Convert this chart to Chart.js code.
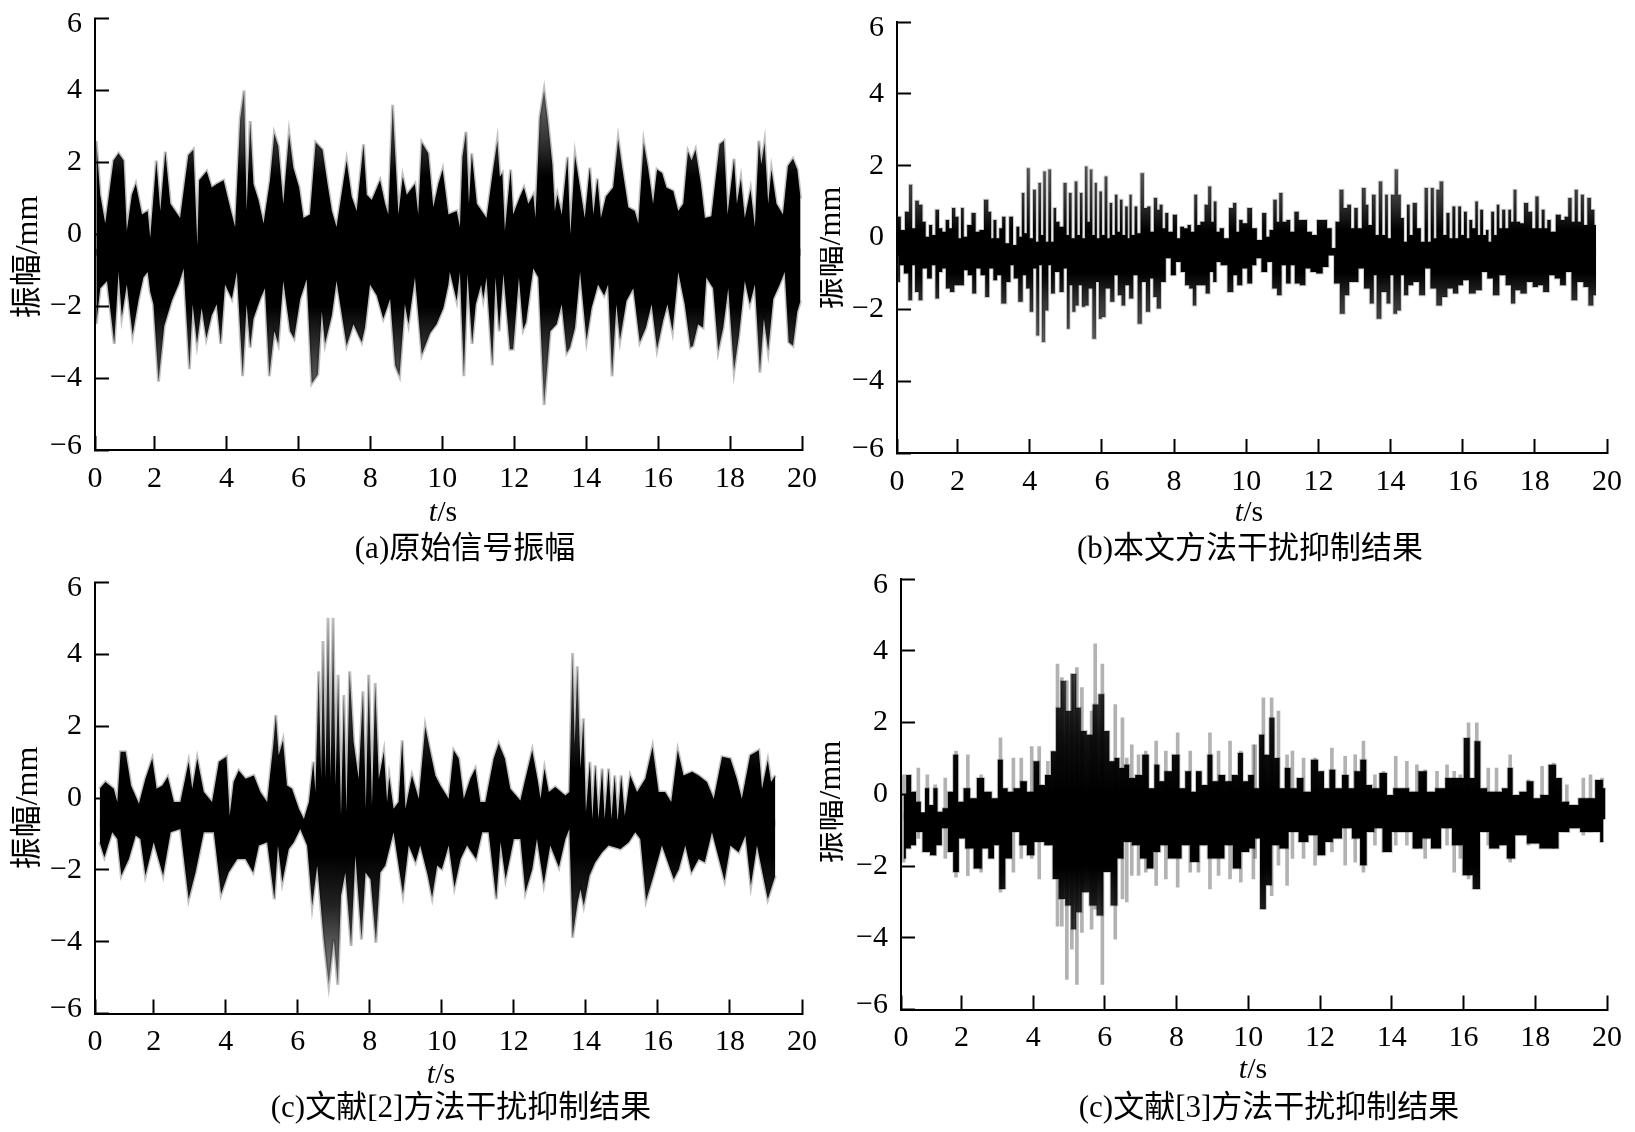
<!DOCTYPE html>
<html>
<head>
<meta charset="utf-8">
<title>振幅</title>
<script src="https://cdn.jsdelivr.net/npm/chart.js@4/dist/chart.umd.min.js"></script>
<style>
  html, body { margin: 0; padding: 0; background: #fff; }
  #page { position: relative; width: 1635px; height: 1132px; overflow: hidden; }
  canvas { position: absolute; filter: blur(0.45px); }
</style>
</head>
<body>
<div id="page">
  <canvas id="panelA"></canvas>
  <canvas id="panelB"></canvas>
  <canvas id="panelC"></canvas>
  <canvas id="panelD"></canvas>
</div>
<script>
var xTickValues = [2, 4, 6, 8, 10, 12, 14, 16, 18, 20];
var xTickLabels = ['0', '2', '4', '6', '8', '10', '12', '14', '16', '18', '20'];
var yTickValues = [-6, -4, -2, 0, 2, 4, 6];
var yTickLabels = ['\u22126', '\u22124', '\u22122', '0', '2', '4', '6'];
var captions = ['(a)原始信号振幅', '(b)本文方法干扰抑制结果', '(c)文献[2]方法干扰抑制结果', '(c)文献[3]方法干扰抑制结果'];
var yTitle = '振幅/mm';

// panel a, upper and lower edge of the band
var upTimeA = [.38,.49,.63,.86,1.0,1.14,1.23,1.37,1.48,1.65,
  1.81,1.88,2.05,2.16,2.3,2.44,2.71,2.94,3.08,3.19,
  3.24,3.45,3.59,3.73,3.92,4.1,4.24,4.38,4.49,4.56,
  4.66,4.75,4.89,5.03,5.21,5.33,5.44,5.58,5.74,5.86,
  6.02,6.14,6.32,6.48,6.67,6.81,6.93,7.06,7.34,7.48,
  7.62,7.81,7.9,8.04,8.27,8.41,8.5,8.62,8.78,8.9,
  9.01,9.24,9.33,9.43,9.61,9.75,9.89,10.01,10.17,
  10.4,10.49,10.56,10.66,10.74,10.82,10.96,11.23,11.4,11.53,
  11.6,11.67,11.74,11.9,11.97,12.16,12.27,12.39,12.53,12.59,
  12.71,12.83,12.93,13.06,13.13,13.2,13.32,13.48,13.56,13.69,
  13.83,13.96,14.1,14.2,14.31,14.41,14.55,14.75,14.89,15.01,
  15.17,15.35,15.45,15.6,15.72,15.86,15.97,16.11,16.23,16.42,
  16.56,16.7,16.83,16.93,17.04,17.19,17.3,17.48,17.71,17.83,
  17.93,18.11,18.19,18.3,18.41,18.57,18.69,18.8,18.87,18.96,
  19.06,19.15,19.29,19.47,19.61,19.75,19.87,19.96];
var upA = [2.6,1.1,.3,2.05,2.25,2.05,.1,1.1,1.4,.55,
  .65,-.1,2.05,.65,2.3,.85,.45,2.2,2.35,-.3,
  1.5,1.75,1.3,1.4,1.5,.75,.2,3.2,4.0,.65,
  3.15,1.4,.95,.3,1.5,2.8,2.45,.85,2.8,1.85,
  1.3,.45,.55,2.55,2.35,1.4,.65,.2,2.05,1.05,
  .65,2.5,1.1,.95,1.5,.85,.55,3.6,.55,1.6,
  1.1,1.4,.55,2.55,2.25,.75,1.4,1.8,.55,
  .65,.2,2.15,2.85,.85,2.25,.85,.45,1.7,2.6,
  1.6,1.7,.1,1.8,.55,1.05,1.3,.85,1.1,.45,
  3.25,4.0,3.2,1.95,.65,1.1,.55,2.15,0,2.2,
  1.3,.45,1.85,.55,1.55,.45,1.05,1.3,2.65,1.8,
  .75,.65,.3,2.55,1.85,.85,1.8,1.7,1.3,1.2,
  .65,.85,2.3,2.05,2.35,1.4,.45,.5,2.5,2.6,
  .55,2.1,.85,1.55,.45,1.25,.2,2.6,1.95,2.55,
  .85,1.8,.85,.55,1.9,2.1,1.8,1.0];
var loTimeA = [.38,.49,.68,.88,1.0,1.09,1.23,1.39,1.56,1.69,
  1.81,1.88,1.97,2.11,2.27,2.48,2.67,2.81,2.97,3.06,
  3.18,3.31,3.44,3.59,3.73,3.84,3.96,4.15,4.29,4.45,
  4.56,4.66,4.75,4.94,5.07,5.19,5.33,5.44,5.58,5.77,
  5.88,6.05,6.23,6.37,6.54,6.65,6.74,6.93,7.06,7.34,
  7.53,7.76,7.85,7.99,8.18,8.36,8.55,8.69,8.81,8.96,
  9.06,9.24,9.43,9.66,9.84,10.03,10.17,
  10.21,10.4,10.49,10.6,10.7,10.83,10.93,11.08,11.14,11.23,
  11.39,11.48,11.58,11.7,11.88,11.97,12.13,12.25,12.33,12.44,
  12.53,12.67,12.83,13.0,13.18,13.32,13.46,13.55,13.69,13.83,
  14.01,14.15,14.33,14.5,14.61,14.72,14.84,14.94,15.12,15.31,
  15.49,15.66,15.82,15.97,16.14,16.26,16.4,16.56,16.74,16.9,
  16.97,17.11,17.25,17.34,17.53,17.67,17.81,17.95,18.11,18.25,
  18.41,18.55,18.69,18.83,18.94,19.06,19.2,19.38,19.52,19.63,
  19.75,19.87,19.96];
var loA = [-2.5,-1.5,-1.3,-3.05,-1.05,-2.3,-1.4,-2.8,-1.8,-1.2,
  -1.05,-1.6,-1.95,-4.1,-2.55,-1.85,-1.4,-.95,-3.75,-1.95,
  -3.05,-2.05,-2.9,-2.25,-1.95,-3.05,-1.4,-1.8,-1.05,-3.95,
  -1.95,-3.15,-2.35,-1.8,-1.5,-3.95,-2.7,-3.05,-1.3,-2.7,
  -2.9,-1.8,-1.25,-4.15,-3.9,-2.15,-3.05,-2.25,-1.3,-3.1,
  -2.5,-3.0,-2.6,-1.4,-1.7,-2.35,-1.8,-3.65,-3.95,-1.95,
  -2.5,-1.2,-3.35,-2.75,-2.5,-2.05,-1.4,
  -1.05,-1.85,-1.05,-3.95,-1.1,-3.05,-1.95,-1.4,-1.8,-1.2,
  -3.65,-1.2,-2.7,-1.1,-3.2,-3.2,-1.2,-2.65,-2.45,-1.6,
  -.95,-1.2,-4.75,-2.7,-2.5,-1.95,-3.3,-3.15,-2.6,-1.05,
  -2.95,-2.05,-1.4,-1.7,-1.4,-3.95,-1.95,-2.95,-1.85,-1.5,
  -3.0,-2.6,-1.95,-3.2,-2.4,-1.95,-2.7,-1.05,-1.95,-3.15,
  -3.1,-2.5,-2.6,-1.2,-1.5,-3.25,-2.6,-1.5,-3.8,-2.8,
  -1.3,-1.95,-1.4,-3.85,-2.35,-3.25,-1.8,-1.4,-1.05,-3.0,
  -3.1,-2.15,-1.85];

// panel b
var upTimeB = [.29,.38,.47,.61,.70,.78,.87,.98,1.07,1.16,
  1.26,1.33,1.44,1.53,1.62,1.72,1.81,1.88,1.99,2.06,
  2.13,2.21,2.32,2.45,2.55,2.66,2.80,2.90,2.96,3.03,
  3.12,3.19,3.28,3.37,3.49,3.58,3.68,3.74,3.82,3.88,
  3.96,4.04,4.14,4.20,4.28,4.34,4.41,4.48,4.55,4.63,
  4.69,4.77,4.88,4.99,5.05,5.12,5.20,5.29,5.35,5.43,
  5.49,5.57,5.63,5.70,5.77,5.83,5.89,5.97,6.03,6.12,
  6.18,6.25,6.32,6.40,6.46,6.54,6.60,6.69,6.74,6.79,
  6.86,6.95,7.01,7.13,7.20,7.31,7.38,7.50,7.56,7.64,
  7.72,7.79,7.89,8.04,8.12,8.22,8.33,8.42,8.51,8.61,
  8.67,8.79,8.90,8.99,9.07,9.13,9.22,9.31,9.45,9.59,
  9.68,9.77,9.84,9.96,10.1,
  10.22,10.37,10.51,10.60,10.69,10.81,10.88,10.95,11.06,11.17,
  11.27,11.40,11.51,11.62,11.75,11.89,12.03,12.17,12.31,12.43,
  12.52,12.65,12.74,12.86,12.95,13.04,13.14,13.27,13.35,13.42,
  13.55,13.62,13.73,13.81,13.89,13.96,14.06,14.17,14.24,14.33,
  14.41,14.50,14.56,14.67,14.79,14.89,15.0,15.07,15.16,15.24,
  15.30,15.42,15.50,15.60,15.67,15.76,15.83,15.92,15.99,16.08,
  16.15,16.22,16.31,16.39,16.45,16.52,16.61,16.68,16.75,16.83,
  16.91,16.98,17.05,17.14,17.22,17.31,17.37,17.45,17.53,17.65,
  17.75,17.88,17.97,18.06,18.15,18.23,18.31,18.38,18.5,18.66,
  18.78,18.87,18.98,19.06,19.15,19.23,19.32,19.4,19.51,19.6,19.7];
var upB = [.26,.58,.21,.72,1.47,.26,1.02,.91,.44,.02,
  .35,.07,.77,.26,.16,.49,.26,.82,.58,-.02,
  .82,.02,.35,.68,.16,.21,1.05,.72,-.02,.49,
  -.02,.26,.58,-.16,.58,-.21,.30,.02,1.24,.12,
  1.93,-.02,1.33,-.12,1.52,.07,1.84,-.12,1.89,-.12,
  .82,.44,.30,1.52,.07,1.24,-.02,1.56,.07,1.24,
  -.02,1.98,.44,1.89,.07,1.52,-.02,1.28,.07,1.70,
  -.02,.96,.07,1.19,.16,1.05,.07,.86,-.02,1.19,
  .07,.86,.12,1.79,.82,.86,.16,1.10,.77,.91,
  .26,.68,.16,.63,-.02,.30,.26,.35,.16,1.19,
  .35,.44,.91,1.42,.44,1.0,.16,.26,-.02,.82,
  .96,.16,.49,.40,.82,
  .26,-.07,.68,.02,.21,1.05,.44,1.24,.44,.49,
  .16,.72,.49,.49,.16,.07,.49,.49,.26,-.30,
  .44,1.33,.82,.91,.26,.82,.26,1.38,.91,.35,
  1.19,.07,1.56,.07,1.19,-.02,1.19,1.89,1.19,.54,
  -.12,.91,.07,.96,.26,-.12,1.38,-.12,1.38,-.02,
  1.33,1.56,.07,.68,-.02,.86,-.02,.86,.07,.72,
  -.02,.49,.26,1.0,.07,.77,.07,.21,-.12,.72,
  .07,.91,.26,.77,.26,.77,.44,1.33,.44,.40,
  .96,.72,.26,1.14,.26,.77,.26,.49,.16,.63,
  .49,.58,1.10,.44,1.33,.44,1.19,.35,1.10,.77,.35];
var loTimeB = [.35,.45,.57,.70,.78,.86,.98,1.07,1.24,1.33,
  1.44,1.53,1.62,1.73,1.85,1.97,2.13,2.22,2.34,2.47,
  2.56,2.71,2.82,2.93,3.05,3.14,3.28,3.42,3.51,3.60,
  3.76,3.85,3.95,4.05,4.14,4.22,4.30,4.37,4.48,4.55,
  4.63,4.76,4.89,4.99,5.07,5.14,5.22,5.31,5.40,5.49,
  5.58,5.68,5.79,5.88,5.95,6.04,6.16,6.30,6.39,6.49,
  6.60,6.69,6.82,6.92,7.06,7.15,7.29,7.38,7.47,7.57,
  7.70,7.84,7.98,8.12,8.25,8.36,8.48,8.56,8.67,8.81,
  8.94,9.04,9.13,9.22,9.36,9.6,9.68,9.82,9.96,10.1,
  10.23,10.33,10.51,10.65,10.79,10.92,11.04,11.17,11.29,11.40,
  11.57,11.71,11.85,12.03,12.21,12.35,12.52,12.67,12.79,12.92,
  13.04,13.18,13.35,13.50,13.57,13.66,13.83,13.95,14.04,14.12,
  14.24,14.33,14.42,14.56,14.70,14.89,15.02,15.19,15.35,15.50,
  15.65,15.81,15.94,16.08,16.27,16.45,16.61,16.75,16.93,17.10,
  17.28,17.40,17.51,17.69,17.86,18.02,18.15,18.31,18.48,18.62,
  18.78,18.94,19.09,19.26,19.43,19.54,19.70];
var loB = [-1.24,-.77,-1.0,-1.75,-.77,-1.52,-1.75,-.86,-1.14,-.77,
  -1.70,-.96,-.86,-1.42,-1.52,-1.33,-1.33,-.91,-1.05,-1.56,
  -.86,-1.05,-1.66,-.86,-1.19,-1.05,-1.84,-1.24,-.77,-1.14,
  -1.79,-1.05,-1.42,-2.07,-.86,-2.73,-.77,-2.91,-2.03,-.77,
  -1.56,-.96,-1.52,-.86,-2.54,-1.33,-2.07,-1.89,-1.33,-1.93,
  -1.89,-1.42,-2.82,-1.24,-2.26,-2.21,-1.42,-1.79,-1.05,-1.61,
  -1.89,-1.33,-1.70,-1.05,-2.40,-1.24,-2.07,-1.14,-1.66,-1.98,
  -1.24,-.58,-1.05,-.68,-.96,-1.33,-1.42,-1.89,-1.33,-1.33,
  -1.56,-.96,-1.24,-.68,-.77,-1.52,-1.05,-1.33,-.86,-1.28,
  -.77,-.58,-.96,-.68,-1.42,-1.61,-.77,-1.28,-.77,-1.28,
  -1.33,-.86,-.96,-1.0,-.82,-.49,-1.28,-2.12,-1.61,-1.24,
  -1.24,-.86,-1.42,-1.84,-1.05,-2.26,-1.52,-1.84,-1.05,-2.12,
  -2.03,-1.05,-1.61,-1.33,-1.24,-1.61,-.86,-1.42,-1.89,-1.66,
  -1.42,-1.56,-1.33,-1.19,-1.56,-1.47,-.96,-1.14,-1.61,-1.05,
  -1.33,-1.84,-1.47,-1.56,-1.24,-1.38,-1.33,-1.52,-1.05,-1.14,
  -1.33,-.96,-1.75,-1.24,-1.38,-1.89,-1.61];

// panel c
var upTimeC = [.50,.66,.89,.99,1.08,1.22,1.37,1.59,1.77,1.96,
  2.08,2.24,2.39,2.56,2.74,2.97,3.07,3.21,3.39,3.62,
  3.81,4.02,4.11,4.22,4.36,4.55,4.78,4.96,5.15,5.32,
  5.39,5.47,5.59,5.70,5.84,6.03,6.17,6.31,6.43,6.49,
  6.58,6.65,6.70,6.77,6.84,6.91,6.98,7.05,7.12,7.20,
  7.28,7.35,7.44,7.55,7.69,7.81,7.89,7.97,8.06,8.15,
  8.25,8.39,8.48,8.54,8.66,8.80,8.90,8.99,9.17,9.36,
  9.54,9.68,9.82,9.96,10.19,
  10.33,10.47,10.61,10.79,10.93,11.07,11.21,11.44,11.58,11.75,
  11.90,12.18,12.32,12.51,12.67,12.74,12.85,12.97,13.15,13.43,
  13.54,13.63,13.69,13.76,13.85,13.93,14.0,14.11,14.18,14.26,
  14.35,14.45,14.52,14.63,14.71,14.80,14.88,14.98,15.08,15.23,
  15.42,15.65,15.85,16.02,16.2,16.37,16.55,16.71,16.95,17.13,
  17.36,17.55,17.78,18.01,18.19,18.33,18.56,18.80,18.89,19.05,
  19.14,19.26];
var upC = [.26,.45,.26,-.11,1.29,1.29,.35,-.16,.54,1.10,
  .26,.35,.59,-.11,-.11,1.01,.26,1.10,.17,-.11,
  1.01,1.15,-.49,.45,.77,.54,.63,.17,-.11,1.47,
  2.31,1.19,1.61,.35,.26,-.30,-.58,-.11,1.01,.17,
  3.53,.54,4.37,.54,5.02,.54,5.02,.35,3.43,-.49,
  2.87,-.39,3.53,1.57,.54,2.97,-.30,3.43,-.21,3.20,
  .54,1.29,-.11,.59,-.30,-.11,1.61,-.30,.63,-.02,
  1.99,1.29,.63,.35,-.02,
  1.33,1.10,-.02,.54,.82,-.11,-.11,1.10,1.52,1.10,
  .26,-.07,.54,1.33,.45,-.02,.82,.17,.31,.07,
  .17,4.04,1.47,3.67,.82,2.22,-.39,1.01,-.58,.91,
  -.58,.82,-.58,.82,-.58,.63,-.67,.63,-.49,.63,
  .17,.54,1.43,.17,.17,-.11,1.33,.63,.73,.63,
  .45,-.02,1.15,1.10,.54,-.02,1.19,1.33,.26,1.05,
  .45,.63];
var loTimeC = [.50,.63,.85,.99,1.10,1.31,1.50,1.63,1.77,2.0,
  2.26,2.47,2.74,2.97,3.16,3.39,3.67,3.87,4.08,4.32,
  4.55,4.76,4.92,5.15,5.35,5.45,5.57,5.75,5.89,6.07,
  6.26,6.40,6.54,6.72,6.86,7.0,7.11,7.20,7.32,7.48,
  7.60,7.77,7.88,8.02,8.17,8.29,8.43,8.66,8.92,9.08,
  9.27,9.40,9.61,9.73,9.87,10.0,10.19,
  10.35,10.52,10.70,10.95,11.12,11.30,11.51,11.63,11.77,12.0,
  12.18,12.32,12.51,12.64,12.83,13.01,13.25,13.43,13.54,13.63,
  13.77,13.85,13.94,14.10,14.26,14.45,14.63,14.96,15.19,15.37,
  15.51,15.67,15.88,16.11,16.44,16.58,16.76,16.93,17.13,17.30,
  17.50,17.85,18.01,18.24,18.43,18.58,18.75,19.05,19.26];
var loC = [-1.23,-1.65,-.95,-1.14,-2.16,-1.70,-1.04,-1.14,-2.16,-1.23,
  -2.16,-.95,-.86,-2.82,-2.07,-.95,-.95,-2.68,-2.07,-1.70,
  -1.70,-2.07,-1.32,-1.23,-2.82,-1.32,-2.35,-1.42,-1.23,-.86,
  -1.32,-3.0,-1.88,-3.94,-5.2,-3.94,-5.2,-2.72,-2.07,-4.12,
  -1.60,-3.94,-2.07,-2.26,-4.03,-2.07,-1.88,-.95,-2.68,-1.32,
  -1.79,-1.32,-2.16,-2.77,-1.88,-1.98,-1.32,
  -2.49,-1.70,-1.32,-1.70,-.95,-.95,-2.82,-1.23,-2.26,-1.14,
  -1.14,-2.63,-1.98,-1.14,-2.40,-1.32,-1.93,-1.14,-.86,-3.89,
  -2.91,-2.54,-3.0,-2.16,-1.79,-1.51,-1.32,-1.42,-1.23,-.95,
  -1.14,-2.86,-2.16,-1.32,-2.26,-1.98,-1.32,-2.07,-1.70,-1.79,
  -.95,-2.30,-1.32,-1.51,-1.04,-2.44,-1.32,-2.82,-2.16];

// panel d: dark band and the grey streaks around it
var upTimeD = [.39,.53,.67,.80,.94,1.03,1.17,1.27,1.40,1.55,
  1.69,1.85,1.97,2.15,2.34,2.52,2.75,2.94,3.09,3.22,
  3.36,3.55,3.73,3.92,4.10,4.24,4.42,4.57,4.71,4.83,
  4.99,5.14,5.26,5.40,5.59,5.73,5.91,6.05,6.20,6.34,
  6.47,6.61,6.75,6.94,7.14,7.31,7.45,7.59,7.73,8.01,
  8.15,8.33,8.47,8.61,8.79,8.93,9.07,9.26,9.45,9.63,
  9.79,9.91,10.08,
  10.23,10.37,10.51,10.66,10.80,10.94,11.09,11.26,11.44,11.63,
  11.86,12.03,12.19,12.33,12.52,12.70,12.89,13.02,13.22,13.36,
  13.54,13.77,13.96,14.12,14.37,14.60,14.88,15.07,15.35,15.63,
  15.90,16.11,16.23,16.38,16.56,16.75,16.98,17.16,17.30,17.44,
  17.67,17.85,18.05,18.23,18.51,18.65,18.83,19.06,19.34,19.53,
  19.81,19.96];
var upD = [-.02,.54,.07,-.21,-.58,.17,-.30,.17,-.49,-.39,
  .07,1.10,-.21,.17,-.11,.45,.07,-.11,.96,.17,
  .07,.17,.36,.07,.92,.26,.54,1.20,2.41,3.16,
  2.32,3.35,2.41,1.76,1.66,2.50,2.79,1.76,.92,1.01,
  .73,.82,.45,.54,1.10,.17,.82,.36,.64,1.10,
  .17,.64,.07,.64,.26,1.10,.36,.54,.36,.54,
  1.15,.36,.54,
  .17,1.66,1.10,2.13,1.01,.17,.73,.17,.45,.07,
  .96,.64,.17,.68,.17,.54,.17,.64,.96,.26,
  .17,.59,-.02,.17,.17,.07,.64,.07,.17,.45,
  .45,1.57,.45,1.48,.17,.07,.07,.17,.73,-.02,
  .07,.36,-.11,-.02,.82,.45,-.21,-.30,-.11,-.11,
  .40,.17];
var loTimeD = [.39,.51,.67,.80,1.03,1.22,1.36,1.55,1.69,1.85,
  2.01,2.20,2.48,2.66,2.84,2.98,3.13,3.32,3.50,3.73,
  3.92,4.15,4.47,4.62,4.80,4.99,5.13,5.26,5.45,5.68,
  5.86,6.05,6.27,6.43,6.61,6.89,7.07,7.26,7.45,7.64,
  7.87,8.04,8.24,8.51,8.75,8.98,9.22,9.45,9.68,9.91,
  10.14,
  10.23,10.42,10.56,10.75,10.98,11.26,11.54,11.81,12.05,12.24,
  12.47,12.75,13.02,13.21,13.39,13.63,13.86,14.14,14.42,14.74,
  14.97,15.21,15.54,15.81,16.14,16.37,16.55,16.88,17.11,17.30,
  17.58,17.95,18.28,18.51,18.79,19.11,19.39,19.72,19.90];
var loD = [-1.79,-1.51,-1.42,-1.05,-1.61,-1.70,-1.42,-.95,-1.61,-2.17,
  -1.23,-1.51,-2.07,-1.51,-1.79,-1.42,-2.64,-1.79,-1.05,-1.42,
  -1.70,-1.33,-1.42,-2.36,-2.92,-3.10,-3.76,-3.29,-2.73,-3.10,
  -3.38,-2.17,-3.10,-1.79,-1.33,-1.42,-1.79,-2.07,-1.61,-1.42,
  -1.79,-1.79,-1.42,-1.89,-1.42,-1.79,-1.79,-1.42,-2.07,-1.61,
  -1.51,
  -1.23,-3.20,-2.54,-1.42,-1.51,-1.05,-1.33,-1.14,-1.70,-1.33,
  -1.23,-.95,-1.23,-1.98,-1.05,-.95,-1.61,-1.05,-1.05,-1.51,
  -1.23,-1.51,-.95,-1.42,-2.26,-2.64,-1.05,-1.51,-1.42,-1.79,
  -1.14,-1.37,-1.51,-1.51,-1.05,-.95,-1.05,-1.05,-1.33];
var streakTimeD = [.39,.80,1.05,1.27,1.55,1.85,2.18,2.55,3.09,3.45,
  3.67,3.96,4.17,4.41,4.68,4.80,4.94,5.08,5.22,5.36,
  5.63,5.73,5.93,6.29,6.49,6.61,6.75,6.94,7.14,7.43,
  7.70,8.03,8.38,8.61,8.93,9.17,9.49,9.79,10.14,
  10.19,10.42,10.65,10.84,11.08,11.23,11.54,11.86,12.33,12.70,
  12.98,13.21,13.53,13.77,14.11,14.42,14.70,14.93,15.26,15.54,
  15.74,15.91,16.14,16.37,16.69,16.92,17.30,17.81,18.19,18.51,
  18.88,19.34,19.54,19.86];
var streakHighD = [.54,.73,.54,.26,.45,1.20,1.10,.54,1.57,1.01,
  1.01,1.33,1.33,.92,3.63,3.25,3.16,3.35,3.53,2.97,
  2.32,4.19,3.63,2.5,2.13,1.01,1.38,1.10,1.20,1.48,
  1.20,1.71,1.20,.64,1.71,1.20,1.48,1.20,1.38,
  1.38,2.69,2.69,2.32,1.10,1.20,1.01,1.01,1.29,1.06,
  1.10,1.48,.54,.64,1.06,.92,.82,.68,.64,.82,
  .64,.54,1.99,1.99,.73,.73,1.10,.40,.78,.87,
  .26,.45,.54,.45];
var streakLowD = [-1.89,-1.23,-1.61,-1.70,-1.79,-2.31,-2.27,-2.17,-2.73,-2.17,
  -1.79,-1.79,-2.36,-1.42,-3.68,-3.68,-5.16,-4.32,-5.30,-3.85,
  -3.76,-3.2,-5.3,-4.04,-2.92,-3.0,-2.26,-2.26,-2.17,-2.54,
  -2.36,-2.59,-2.17,-2.17,-2.64,-2.26,-2.36,-2.45,-2.36,
  -1.79,-3.20,-2.83,-1.98,-2.54,-1.79,-1.79,-1.98,-1.61,-1.98,
  -1.89,-2.17,-1.42,-1.61,-1.42,-1.42,-1.51,-1.79,-1.42,-1.42,
  -2.17,-1.79,-2.36,-2.64,-1.42,-1.42,-1.89,-1.42,-1.42,-1.51,
  -1.05,-1.14,-1.05,-1.33];

var FONT_NUM = '"Liberation Serif"';
var FONT_TXT = '"Liberation Serif", "Noto Sans CJK SC"';

function points(times, values) {
  return times.map(function (t, i) { return { x: t, y: values[i] }; });
}

// vertical fade of the band: black core, grey tips
function fade(stops) {
  return function (context) {
    var chart = context.chart;
    var area = chart.chartArea;
    if (!area) return '#000';
    var g = chart.ctx.createLinearGradient(0, area.top, 0, area.bottom);
    stops.forEach(function (s) { g.addColorStop((6 - s[0]) / 12, s[1]); });
    return g;
  };
}

function band(times, values, base, stepped, stops) {
  return {
    type: 'line',
    data: points(times, values),
    borderColor: stepped ? 'rgba(0,0,0,0.2)' : 'rgba(0,0,0,0.25)',
    borderWidth: stepped ? 2 : 3,
    backgroundColor: fade(stops),
    fill: { value: base },
    pointRadius: 0,
    tension: 0,
    stepped: stepped
  };
}

function streaks(times, highs, lows) {
  return {
    type: 'bar',
    data: times.map(function (t, i) { return { x: t, y: [lows[i], highs[i]] }; }),
    backgroundColor: 'rgba(0,0,0,0.3)',
    barThickness: 3
  };
}

var fadeA = [[6, '#777'], [4, '#6e6e6e'], [2.6, '#333'], [1.6, '#000'], [-2, '#000'], [-3.2, '#333'], [-4.8, '#777'], [-6, '#777']];
var fadeB = [[6, '#666'], [2, '#666'], [1, '#333'], [.2, '#000'], [-1, '#000'], [-1.8, '#333'], [-3, '#666'], [-6, '#666']];
var fadeC = [[6, '#888'], [5.2, '#888'], [3.5, '#555'], [1.6, '#1a1a1a'], [.8, '#000'], [-1.6, '#000'], [-3, '#222'], [-4, '#555'], [-5.2, '#888'], [-6, '#888']];
var fadeD = [[6, '#555'], [3.5, '#444'], [1.5, '#111'], [0, '#000'], [-2, '#000'], [-3.5, '#333'], [-6, '#444']];

// the reference pulls the outermost y labels in towards the plot
function nudgeYLabels(chart) {
  var items = chart.scales.y.getLabelItems();
  items[0].options.translation[1] -= 4;
  items[items.length - 1].options.translation[1] += 6;
}

// axis titles and the caption sit outside the plot, drawn with fixed positions per panel
var panelText = {
  id: 'panelText',
  beforeDraw: nudgeYLabels,
  afterDraw: function (chart, args, opts) {
    var ctx = chart.ctx;
    ctx.save();
    ctx.fillStyle = '#000';
    ctx.textBaseline = 'middle';
    ctx.font = '31px ' + FONT_TXT;

    ctx.textAlign = 'center';
    ctx.fillText(opts.caption, opts.captionX, opts.captionY);

    ctx.font = '32px ' + FONT_TXT;
    ctx.save();
    ctx.translate(opts.yTitleX, opts.yTitleY);
    ctx.rotate(-Math.PI / 2);
    ctx.fillText(yTitle, 0, 0);
    ctx.restore();

    ctx.font = 'italic 30px ' + FONT_NUM;
    var w1 = ctx.measureText('t').width;
    ctx.font = '30px ' + FONT_NUM;
    var w2 = ctx.measureText('/s').width;
    var x0 = opts.tX - (w1 + w2) / 2;
    ctx.textAlign = 'left';
    ctx.font = 'italic 30px ' + FONT_NUM;
    ctx.fillText('t', x0, opts.tY);
    ctx.font = '30px ' + FONT_NUM;
    ctx.fillText('/s', x0 + w1, opts.tY);
    ctx.restore();
  }
};

function noEdgePadding(axis) {
  axis.paddingLeft = 0;
  axis.paddingRight = 0;
  axis.paddingTop = 0;
  axis.paddingBottom = 0;
}

function makePanel(cfg) {
  var canvas = document.getElementById(cfg.id);
  canvas.width = cfg.w;
  canvas.height = cfg.h;
  canvas.style.left = cfg.x + 'px';
  canvas.style.top = cfg.y + 'px';

  new Chart(canvas.getContext('2d'), {
    type: 'line',
    data: { datasets: cfg.datasets },
    plugins: [panelText],
    options: {
      responsive: false,
      animation: false,
      layout: {
        padding: {
          left: 0,
          top: cfg.top - cfg.y,
          right: cfg.x + cfg.w - cfg.right,
          bottom: 0
        }
      },
      plugins: {
        legend: { display: false },
        tooltip: { enabled: false },
        panelText: {
          caption: cfg.caption,
          captionX: cfg.captionX - cfg.x,
          captionY: cfg.captionY - cfg.y,
          yTitleX: cfg.yTitleX - cfg.x,
          yTitleY: cfg.yTitleY - cfg.y,
          tX: cfg.tX - cfg.x,
          tY: cfg.tY - cfg.y
        }
      },
      scales: {
        x: {
          type: 'linear',
          offset: false,
          min: cfg.tStart,
          max: 20,
          afterBuildTicks: function (axis) {
            axis.ticks = [cfg.tStart].concat(xTickValues).map(function (v) { return { value: v }; });
          },
          afterFit: function (axis) {
            axis.height = cfg.y + cfg.h - cfg.bottom;
            noEdgePadding(axis);
          },
          border: { display: true, color: '#000', width: 2 },
          grid: { offset: false, drawOnChartArea: false, tickLength: -14, tickColor: '#000', tickWidth: 2 },
          ticks: {
            color: '#000',
            autoSkip: false,
            maxRotation: 0,
            padding: 28,
            font: { family: FONT_NUM, size: 30, lineHeight: 1 },
            callback: function (value, index) { return xTickLabels[index]; }
          }
        },
        y: {
          min: -6,
          max: 6,
          afterBuildTicks: function (axis) {
            axis.ticks = yTickValues.map(function (v) { return { value: v }; });
          },
          afterFit: function (axis) {
            axis.width = cfg.left - cfg.x;
            noEdgePadding(axis);
          },
          border: { display: true, color: '#000', width: 2 },
          grid: { drawOnChartArea: false, tickLength: -14, tickColor: '#000', tickWidth: 2 },
          ticks: {
            color: '#000',
            autoSkip: false,
            padding: 27,
            font: { family: FONT_NUM, size: 30, lineHeight: 1 },
            callback: function (value, index) { return yTickLabels[index]; }
          }
        }
      }
    }
  });
}

document.addEventListener('DOMContentLoaded', function () {
  makePanel({
    id: 'panelA', x: 0, y: 0, w: 840, h: 570,
    left: 95, top: 18.5, right: 802, bottom: 450, tStart: 0.345,
    caption: captions[0], captionX: 465, captionY: 550,
    yTitleX: 29, yTitleY: 257, tX: 443, tY: 513,
    datasets: [band(upTimeA, upA, -0.6, false, fadeA), band(loTimeA, loA, -0.4, false, fadeA)]
  });
  makePanel({
    id: 'panelB', x: 820, y: 0, w: 815, h: 570,
    left: 897, top: 22, right: 1607, bottom: 453, tStart: 0.32,
    caption: captions[1], captionX: 1250, captionY: 550,
    yTitleX: 832, yTitleY: 248, tX: 1249, tY: 513,
    datasets: [band(upTimeB, upB, -0.5, 'middle', fadeB), band(loTimeB, loB, -0.3, 'middle', fadeB)]
  });
  makePanel({
    id: 'panelC', x: 0, y: 560, w: 840, h: 572,
    left: 95, top: 582.6, right: 802, bottom: 1013.5, tStart: 0.37,
    caption: captions[2], captionX: 461, captionY: 1109,
    yTitleX: 29, yTitleY: 808, tX: 441, tY: 1075,
    datasets: [band(upTimeC, upC, -0.8, false, fadeC), band(loTimeC, loC, -0.6, false, fadeC)]
  });
  makePanel({
    id: 'panelD', x: 820, y: 560, w: 815, h: 572,
    left: 901, top: 579, right: 1607, bottom: 1009.5, tStart: 0.316,
    caption: captions[3], captionX: 1269, captionY: 1109,
    yTitleX: 831.5, yTitleY: 802, tX: 1253, tY: 1070,
    datasets: [
      streaks(streakTimeD, streakHighD, streakLowD),
      band(upTimeD, upD, -0.7, 'middle', fadeD),
      band(loTimeD, loD, -0.5, 'middle', fadeD)
    ]
  });
});
</script>
</body>
</html>
